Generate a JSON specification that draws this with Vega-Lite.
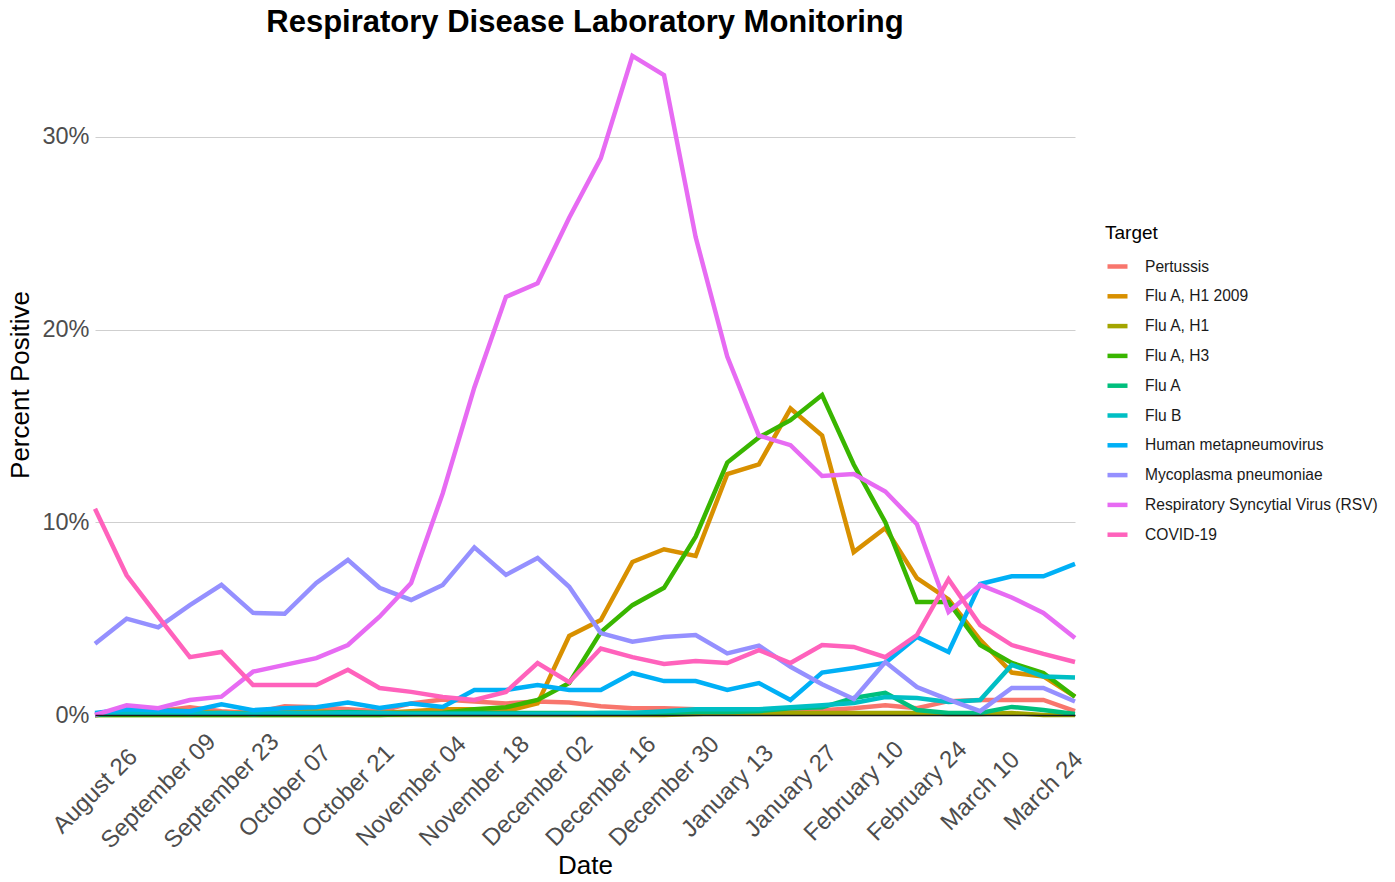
{
"$schema": "https://vega.github.io/schema/vega-lite/v6.json",
"autosize": "none",
"width": 980,
"height": 661,
"padding": {"left": 95, "top": 54, "right": 320, "bottom": 167},
"background": "white",
"config": {"font": "Liberation Sans", "view": {"stroke": null}},
"title": {"text": "Respiratory Disease Laboratory Monitoring", "fontSize": 31, "fontWeight": "bold", "color": "black", "anchor": "middle", "offset": 8},
"data": {"values": [
{"date":"2024-08-26","target":"Pertussis","pct":0},{"date":"2024-09-02","target":"Pertussis","pct":0.1},{"date":"2024-09-09","target":"Pertussis","pct":0.2},{"date":"2024-09-16","target":"Pertussis","pct":0.4},{"date":"2024-09-23","target":"Pertussis","pct":0.2},{"date":"2024-09-30","target":"Pertussis","pct":0.1},{"date":"2024-10-07","target":"Pertussis","pct":0.45},{"date":"2024-10-14","target":"Pertussis","pct":0.4},{"date":"2024-10-21","target":"Pertussis","pct":0.3},{"date":"2024-10-28","target":"Pertussis","pct":0.2},{"date":"2024-11-04","target":"Pertussis","pct":0.6},{"date":"2024-11-11","target":"Pertussis","pct":0.8},{"date":"2024-11-18","target":"Pertussis","pct":0.7},{"date":"2024-11-25","target":"Pertussis","pct":0.6},{"date":"2024-12-02","target":"Pertussis","pct":0.7},{"date":"2024-12-09","target":"Pertussis","pct":0.65},{"date":"2024-12-16","target":"Pertussis","pct":0.45},{"date":"2024-12-23","target":"Pertussis","pct":0.35},{"date":"2024-12-30","target":"Pertussis","pct":0.35},{"date":"2025-01-06","target":"Pertussis","pct":0.3},{"date":"2025-01-13","target":"Pertussis","pct":0.2},{"date":"2025-01-20","target":"Pertussis","pct":0.2},{"date":"2025-01-27","target":"Pertussis","pct":0.2},{"date":"2025-02-03","target":"Pertussis","pct":0.25},{"date":"2025-02-10","target":"Pertussis","pct":0.35},{"date":"2025-02-17","target":"Pertussis","pct":0.5},{"date":"2025-02-24","target":"Pertussis","pct":0.35},{"date":"2025-03-03","target":"Pertussis","pct":0.72},{"date":"2025-03-10","target":"Pertussis","pct":0.78},{"date":"2025-03-17","target":"Pertussis","pct":0.78},{"date":"2025-03-24","target":"Pertussis","pct":0.78},{"date":"2025-03-31","target":"Pertussis","pct":0.2},
{"date":"2024-08-26","target":"Flu A, H1 2009","pct":0},{"date":"2024-09-02","target":"Flu A, H1 2009","pct":0.1},{"date":"2024-09-09","target":"Flu A, H1 2009","pct":0.3},{"date":"2024-09-16","target":"Flu A, H1 2009","pct":0.2},{"date":"2024-09-23","target":"Flu A, H1 2009","pct":0.1},{"date":"2024-09-30","target":"Flu A, H1 2009","pct":0.1},{"date":"2024-10-07","target":"Flu A, H1 2009","pct":0.2},{"date":"2024-10-14","target":"Flu A, H1 2009","pct":0.2},{"date":"2024-10-21","target":"Flu A, H1 2009","pct":0.1},{"date":"2024-10-28","target":"Flu A, H1 2009","pct":0.1},{"date":"2024-11-04","target":"Flu A, H1 2009","pct":0.2},{"date":"2024-11-11","target":"Flu A, H1 2009","pct":0.3},{"date":"2024-11-18","target":"Flu A, H1 2009","pct":0.3},{"date":"2024-11-25","target":"Flu A, H1 2009","pct":0.2},{"date":"2024-12-02","target":"Flu A, H1 2009","pct":0.6},{"date":"2024-12-09","target":"Flu A, H1 2009","pct":4.1},{"date":"2024-12-16","target":"Flu A, H1 2009","pct":4.93},{"date":"2024-12-23","target":"Flu A, H1 2009","pct":7.94},{"date":"2024-12-30","target":"Flu A, H1 2009","pct":8.6},{"date":"2025-01-06","target":"Flu A, H1 2009","pct":8.25},{"date":"2025-01-13","target":"Flu A, H1 2009","pct":12.5},{"date":"2025-01-20","target":"Flu A, H1 2009","pct":13.0},{"date":"2025-01-27","target":"Flu A, H1 2009","pct":15.9},{"date":"2025-02-03","target":"Flu A, H1 2009","pct":14.5},{"date":"2025-02-10","target":"Flu A, H1 2009","pct":8.45},{"date":"2025-02-17","target":"Flu A, H1 2009","pct":9.7},{"date":"2025-02-24","target":"Flu A, H1 2009","pct":7.1},{"date":"2025-03-03","target":"Flu A, H1 2009","pct":6.0},{"date":"2025-03-10","target":"Flu A, H1 2009","pct":3.9},{"date":"2025-03-17","target":"Flu A, H1 2009","pct":2.2},{"date":"2025-03-24","target":"Flu A, H1 2009","pct":2.0},{"date":"2025-03-31","target":"Flu A, H1 2009","pct":0.95},
{"date":"2024-08-26","target":"Flu A, H1","pct":0},{"date":"2024-09-02","target":"Flu A, H1","pct":0},{"date":"2024-09-09","target":"Flu A, H1","pct":0},{"date":"2024-09-16","target":"Flu A, H1","pct":0},{"date":"2024-09-23","target":"Flu A, H1","pct":0},{"date":"2024-09-30","target":"Flu A, H1","pct":0},{"date":"2024-10-07","target":"Flu A, H1","pct":0},{"date":"2024-10-14","target":"Flu A, H1","pct":0},{"date":"2024-10-21","target":"Flu A, H1","pct":0},{"date":"2024-10-28","target":"Flu A, H1","pct":0},{"date":"2024-11-04","target":"Flu A, H1","pct":0},{"date":"2024-11-11","target":"Flu A, H1","pct":0},{"date":"2024-11-18","target":"Flu A, H1","pct":0},{"date":"2024-11-25","target":"Flu A, H1","pct":0},{"date":"2024-12-02","target":"Flu A, H1","pct":0},{"date":"2024-12-09","target":"Flu A, H1","pct":0},{"date":"2024-12-16","target":"Flu A, H1","pct":0},{"date":"2024-12-23","target":"Flu A, H1","pct":0},{"date":"2024-12-30","target":"Flu A, H1","pct":0},{"date":"2025-01-06","target":"Flu A, H1","pct":0.05},{"date":"2025-01-13","target":"Flu A, H1","pct":0.1},{"date":"2025-01-20","target":"Flu A, H1","pct":0.1},{"date":"2025-01-27","target":"Flu A, H1","pct":0.1},{"date":"2025-02-03","target":"Flu A, H1","pct":0.1},{"date":"2025-02-10","target":"Flu A, H1","pct":0.1},{"date":"2025-02-17","target":"Flu A, H1","pct":0.1},{"date":"2025-02-24","target":"Flu A, H1","pct":0.1},{"date":"2025-03-03","target":"Flu A, H1","pct":0.05},{"date":"2025-03-10","target":"Flu A, H1","pct":0.05},{"date":"2025-03-17","target":"Flu A, H1","pct":0.1},{"date":"2025-03-24","target":"Flu A, H1","pct":0},{"date":"2025-03-31","target":"Flu A, H1","pct":0},
{"date":"2024-08-26","target":"Flu A, H3","pct":0},{"date":"2024-09-02","target":"Flu A, H3","pct":0},{"date":"2024-09-09","target":"Flu A, H3","pct":0},{"date":"2024-09-16","target":"Flu A, H3","pct":0},{"date":"2024-09-23","target":"Flu A, H3","pct":0},{"date":"2024-09-30","target":"Flu A, H3","pct":0},{"date":"2024-10-07","target":"Flu A, H3","pct":0},{"date":"2024-10-14","target":"Flu A, H3","pct":0},{"date":"2024-10-21","target":"Flu A, H3","pct":0},{"date":"2024-10-28","target":"Flu A, H3","pct":0},{"date":"2024-11-04","target":"Flu A, H3","pct":0.05},{"date":"2024-11-11","target":"Flu A, H3","pct":0.1},{"date":"2024-11-18","target":"Flu A, H3","pct":0.3},{"date":"2024-11-25","target":"Flu A, H3","pct":0.4},{"date":"2024-12-02","target":"Flu A, H3","pct":0.78},{"date":"2024-12-09","target":"Flu A, H3","pct":1.66},{"date":"2024-12-16","target":"Flu A, H3","pct":4.3},{"date":"2024-12-23","target":"Flu A, H3","pct":5.7},{"date":"2024-12-30","target":"Flu A, H3","pct":6.6},{"date":"2025-01-06","target":"Flu A, H3","pct":9.25},{"date":"2025-01-13","target":"Flu A, H3","pct":13.1},{"date":"2025-01-20","target":"Flu A, H3","pct":14.4},{"date":"2025-01-27","target":"Flu A, H3","pct":15.3},{"date":"2025-02-03","target":"Flu A, H3","pct":16.6},{"date":"2025-02-10","target":"Flu A, H3","pct":13.0},{"date":"2025-02-17","target":"Flu A, H3","pct":10.0},{"date":"2025-02-24","target":"Flu A, H3","pct":5.86},{"date":"2025-03-03","target":"Flu A, H3","pct":5.86},{"date":"2025-03-10","target":"Flu A, H3","pct":3.63},{"date":"2025-03-17","target":"Flu A, H3","pct":2.7},{"date":"2025-03-24","target":"Flu A, H3","pct":2.18},{"date":"2025-03-31","target":"Flu A, H3","pct":0.95},
{"date":"2024-08-26","target":"Flu A","pct":0},{"date":"2024-09-02","target":"Flu A","pct":0.1},{"date":"2024-09-09","target":"Flu A","pct":0.1},{"date":"2024-09-16","target":"Flu A","pct":0.05},{"date":"2024-09-23","target":"Flu A","pct":0.1},{"date":"2024-09-30","target":"Flu A","pct":0.05},{"date":"2024-10-07","target":"Flu A","pct":0.1},{"date":"2024-10-14","target":"Flu A","pct":0.1},{"date":"2024-10-21","target":"Flu A","pct":0.15},{"date":"2024-10-28","target":"Flu A","pct":0.1},{"date":"2024-11-04","target":"Flu A","pct":0.1},{"date":"2024-11-11","target":"Flu A","pct":0.1},{"date":"2024-11-18","target":"Flu A","pct":0.1},{"date":"2024-11-25","target":"Flu A","pct":0.1},{"date":"2024-12-02","target":"Flu A","pct":0.1},{"date":"2024-12-09","target":"Flu A","pct":0.1},{"date":"2024-12-16","target":"Flu A","pct":0.1},{"date":"2024-12-23","target":"Flu A","pct":0.1},{"date":"2024-12-30","target":"Flu A","pct":0.1},{"date":"2025-01-06","target":"Flu A","pct":0.15},{"date":"2025-01-13","target":"Flu A","pct":0.15},{"date":"2025-01-20","target":"Flu A","pct":0.2},{"date":"2025-01-27","target":"Flu A","pct":0.35},{"date":"2025-02-03","target":"Flu A","pct":0.4},{"date":"2025-02-10","target":"Flu A","pct":0.88},{"date":"2025-02-17","target":"Flu A","pct":1.15},{"date":"2025-02-24","target":"Flu A","pct":0.26},{"date":"2025-03-03","target":"Flu A","pct":0.1},{"date":"2025-03-10","target":"Flu A","pct":0.1},{"date":"2025-03-17","target":"Flu A","pct":0.42},{"date":"2025-03-24","target":"Flu A","pct":0.26},{"date":"2025-03-31","target":"Flu A","pct":0.05},
{"date":"2024-08-26","target":"Flu B","pct":0.05},{"date":"2024-09-02","target":"Flu B","pct":0.1},{"date":"2024-09-09","target":"Flu B","pct":0.1},{"date":"2024-09-16","target":"Flu B","pct":0.1},{"date":"2024-09-23","target":"Flu B","pct":0.1},{"date":"2024-09-30","target":"Flu B","pct":0.05},{"date":"2024-10-07","target":"Flu B","pct":0.1},{"date":"2024-10-14","target":"Flu B","pct":0.1},{"date":"2024-10-21","target":"Flu B","pct":0.1},{"date":"2024-10-28","target":"Flu B","pct":0.1},{"date":"2024-11-04","target":"Flu B","pct":0.05},{"date":"2024-11-11","target":"Flu B","pct":0.05},{"date":"2024-11-18","target":"Flu B","pct":0.05},{"date":"2024-11-25","target":"Flu B","pct":0.05},{"date":"2024-12-02","target":"Flu B","pct":0.05},{"date":"2024-12-09","target":"Flu B","pct":0.05},{"date":"2024-12-16","target":"Flu B","pct":0.1},{"date":"2024-12-23","target":"Flu B","pct":0.1},{"date":"2024-12-30","target":"Flu B","pct":0.2},{"date":"2025-01-06","target":"Flu B","pct":0.3},{"date":"2025-01-13","target":"Flu B","pct":0.3},{"date":"2025-01-20","target":"Flu B","pct":0.3},{"date":"2025-01-27","target":"Flu B","pct":0.4},{"date":"2025-02-03","target":"Flu B","pct":0.5},{"date":"2025-02-10","target":"Flu B","pct":0.62},{"date":"2025-02-17","target":"Flu B","pct":0.93},{"date":"2025-02-24","target":"Flu B","pct":0.88},{"date":"2025-03-03","target":"Flu B","pct":0.67},{"date":"2025-03-10","target":"Flu B","pct":0.78},{"date":"2025-03-17","target":"Flu B","pct":2.6},{"date":"2025-03-24","target":"Flu B","pct":2.0},{"date":"2025-03-31","target":"Flu B","pct":1.95},
{"date":"2024-08-26","target":"Human metapneumovirus","pct":0.1},{"date":"2024-09-02","target":"Human metapneumovirus","pct":0.3},{"date":"2024-09-09","target":"Human metapneumovirus","pct":0.25},{"date":"2024-09-16","target":"Human metapneumovirus","pct":0.2},{"date":"2024-09-23","target":"Human metapneumovirus","pct":0.55},{"date":"2024-09-30","target":"Human metapneumovirus","pct":0.25},{"date":"2024-10-07","target":"Human metapneumovirus","pct":0.35},{"date":"2024-10-14","target":"Human metapneumovirus","pct":0.4},{"date":"2024-10-21","target":"Human metapneumovirus","pct":0.65},{"date":"2024-10-28","target":"Human metapneumovirus","pct":0.36},{"date":"2024-11-04","target":"Human metapneumovirus","pct":0.6},{"date":"2024-11-11","target":"Human metapneumovirus","pct":0.42},{"date":"2024-11-18","target":"Human metapneumovirus","pct":1.3},{"date":"2024-11-25","target":"Human metapneumovirus","pct":1.3},{"date":"2024-12-02","target":"Human metapneumovirus","pct":1.55},{"date":"2024-12-09","target":"Human metapneumovirus","pct":1.3},{"date":"2024-12-16","target":"Human metapneumovirus","pct":1.3},{"date":"2024-12-23","target":"Human metapneumovirus","pct":2.18},{"date":"2024-12-30","target":"Human metapneumovirus","pct":1.76},{"date":"2025-01-06","target":"Human metapneumovirus","pct":1.76},{"date":"2025-01-13","target":"Human metapneumovirus","pct":1.3},{"date":"2025-01-20","target":"Human metapneumovirus","pct":1.66},{"date":"2025-01-27","target":"Human metapneumovirus","pct":0.78},{"date":"2025-02-03","target":"Human metapneumovirus","pct":2.2},{"date":"2025-02-10","target":"Human metapneumovirus","pct":2.44},{"date":"2025-02-17","target":"Human metapneumovirus","pct":2.7},{"date":"2025-02-24","target":"Human metapneumovirus","pct":4.05},{"date":"2025-03-03","target":"Human metapneumovirus","pct":3.27},{"date":"2025-03-10","target":"Human metapneumovirus","pct":6.8},{"date":"2025-03-17","target":"Human metapneumovirus","pct":7.2},{"date":"2025-03-24","target":"Human metapneumovirus","pct":7.2},{"date":"2025-03-31","target":"Human metapneumovirus","pct":7.84},
{"date":"2024-08-26","target":"Mycoplasma pneumoniae","pct":3.7},{"date":"2024-09-02","target":"Mycoplasma pneumoniae","pct":5.0},{"date":"2024-09-09","target":"Mycoplasma pneumoniae","pct":4.55},{"date":"2024-09-16","target":"Mycoplasma pneumoniae","pct":5.7},{"date":"2024-09-23","target":"Mycoplasma pneumoniae","pct":6.75},{"date":"2024-09-30","target":"Mycoplasma pneumoniae","pct":5.3},{"date":"2024-10-07","target":"Mycoplasma pneumoniae","pct":5.25},{"date":"2024-10-14","target":"Mycoplasma pneumoniae","pct":6.85},{"date":"2024-10-21","target":"Mycoplasma pneumoniae","pct":8.05},{"date":"2024-10-28","target":"Mycoplasma pneumoniae","pct":6.6},{"date":"2024-11-04","target":"Mycoplasma pneumoniae","pct":5.97},{"date":"2024-11-11","target":"Mycoplasma pneumoniae","pct":6.75},{"date":"2024-11-18","target":"Mycoplasma pneumoniae","pct":8.7},{"date":"2024-11-25","target":"Mycoplasma pneumoniae","pct":7.27},{"date":"2024-12-02","target":"Mycoplasma pneumoniae","pct":8.15},{"date":"2024-12-09","target":"Mycoplasma pneumoniae","pct":6.65},{"date":"2024-12-16","target":"Mycoplasma pneumoniae","pct":4.25},{"date":"2024-12-23","target":"Mycoplasma pneumoniae","pct":3.8},{"date":"2024-12-30","target":"Mycoplasma pneumoniae","pct":4.05},{"date":"2025-01-06","target":"Mycoplasma pneumoniae","pct":4.15},{"date":"2025-01-13","target":"Mycoplasma pneumoniae","pct":3.2},{"date":"2025-01-20","target":"Mycoplasma pneumoniae","pct":3.6},{"date":"2025-01-27","target":"Mycoplasma pneumoniae","pct":2.5},{"date":"2025-02-03","target":"Mycoplasma pneumoniae","pct":1.6},{"date":"2025-02-10","target":"Mycoplasma pneumoniae","pct":0.83},{"date":"2025-02-17","target":"Mycoplasma pneumoniae","pct":2.75},{"date":"2025-02-24","target":"Mycoplasma pneumoniae","pct":1.45},{"date":"2025-03-03","target":"Mycoplasma pneumoniae","pct":0.8},{"date":"2025-03-10","target":"Mycoplasma pneumoniae","pct":0.2},{"date":"2025-03-17","target":"Mycoplasma pneumoniae","pct":1.4},{"date":"2025-03-24","target":"Mycoplasma pneumoniae","pct":1.4},{"date":"2025-03-31","target":"Mycoplasma pneumoniae","pct":0.7},
{"date":"2024-08-26","target":"Respiratory Syncytial Virus (RSV)","pct":0},{"date":"2024-09-02","target":"Respiratory Syncytial Virus (RSV)","pct":0.5},{"date":"2024-09-09","target":"Respiratory Syncytial Virus (RSV)","pct":0.35},{"date":"2024-09-16","target":"Respiratory Syncytial Virus (RSV)","pct":0.78},{"date":"2024-09-23","target":"Respiratory Syncytial Virus (RSV)","pct":0.95},{"date":"2024-09-30","target":"Respiratory Syncytial Virus (RSV)","pct":2.25},{"date":"2024-10-07","target":"Respiratory Syncytial Virus (RSV)","pct":2.6},{"date":"2024-10-14","target":"Respiratory Syncytial Virus (RSV)","pct":2.95},{"date":"2024-10-21","target":"Respiratory Syncytial Virus (RSV)","pct":3.63},{"date":"2024-10-28","target":"Respiratory Syncytial Virus (RSV)","pct":5.1},{"date":"2024-11-04","target":"Respiratory Syncytial Virus (RSV)","pct":6.85},{"date":"2024-11-11","target":"Respiratory Syncytial Virus (RSV)","pct":11.5},{"date":"2024-11-18","target":"Respiratory Syncytial Virus (RSV)","pct":17.0},{"date":"2024-11-25","target":"Respiratory Syncytial Virus (RSV)","pct":21.7},{"date":"2024-12-02","target":"Respiratory Syncytial Virus (RSV)","pct":22.4},{"date":"2024-12-09","target":"Respiratory Syncytial Virus (RSV)","pct":25.8},{"date":"2024-12-16","target":"Respiratory Syncytial Virus (RSV)","pct":28.9},{"date":"2024-12-23","target":"Respiratory Syncytial Virus (RSV)","pct":34.2},{"date":"2024-12-30","target":"Respiratory Syncytial Virus (RSV)","pct":33.2},{"date":"2025-01-06","target":"Respiratory Syncytial Virus (RSV)","pct":24.8},{"date":"2025-01-13","target":"Respiratory Syncytial Virus (RSV)","pct":18.6},{"date":"2025-01-20","target":"Respiratory Syncytial Virus (RSV)","pct":14.5},{"date":"2025-01-27","target":"Respiratory Syncytial Virus (RSV)","pct":14.0},{"date":"2025-02-03","target":"Respiratory Syncytial Virus (RSV)","pct":12.4},{"date":"2025-02-10","target":"Respiratory Syncytial Virus (RSV)","pct":12.5},{"date":"2025-02-17","target":"Respiratory Syncytial Virus (RSV)","pct":11.6},{"date":"2025-02-24","target":"Respiratory Syncytial Virus (RSV)","pct":9.9},{"date":"2025-03-03","target":"Respiratory Syncytial Virus (RSV)","pct":5.35},{"date":"2025-03-10","target":"Respiratory Syncytial Virus (RSV)","pct":6.75},{"date":"2025-03-17","target":"Respiratory Syncytial Virus (RSV)","pct":6.1},{"date":"2025-03-24","target":"Respiratory Syncytial Virus (RSV)","pct":5.3},{"date":"2025-03-31","target":"Respiratory Syncytial Virus (RSV)","pct":4.0},
{"date":"2024-08-26","target":"COVID-19","pct":10.7},{"date":"2024-09-02","target":"COVID-19","pct":7.25},{"date":"2024-09-09","target":"COVID-19","pct":5.1},{"date":"2024-09-16","target":"COVID-19","pct":3.0},{"date":"2024-09-23","target":"COVID-19","pct":3.27},{"date":"2024-09-30","target":"COVID-19","pct":1.56},{"date":"2024-10-07","target":"COVID-19","pct":1.56},{"date":"2024-10-14","target":"COVID-19","pct":1.56},{"date":"2024-10-21","target":"COVID-19","pct":2.35},{"date":"2024-10-28","target":"COVID-19","pct":1.4},{"date":"2024-11-04","target":"COVID-19","pct":1.2},{"date":"2024-11-11","target":"COVID-19","pct":0.93},{"date":"2024-11-18","target":"COVID-19","pct":0.78},{"date":"2024-11-25","target":"COVID-19","pct":1.2},{"date":"2024-12-02","target":"COVID-19","pct":2.7},{"date":"2024-12-09","target":"COVID-19","pct":1.7},{"date":"2024-12-16","target":"COVID-19","pct":3.45},{"date":"2024-12-23","target":"COVID-19","pct":3.0},{"date":"2024-12-30","target":"COVID-19","pct":2.65},{"date":"2025-01-06","target":"COVID-19","pct":2.8},{"date":"2025-01-13","target":"COVID-19","pct":2.7},{"date":"2025-01-20","target":"COVID-19","pct":3.37},{"date":"2025-01-27","target":"COVID-19","pct":2.7},{"date":"2025-02-03","target":"COVID-19","pct":3.63},{"date":"2025-02-10","target":"COVID-19","pct":3.53},{"date":"2025-02-17","target":"COVID-19","pct":3.0},{"date":"2025-02-24","target":"COVID-19","pct":4.15},{"date":"2025-03-03","target":"COVID-19","pct":7.05},{"date":"2025-03-10","target":"COVID-19","pct":4.67},{"date":"2025-03-17","target":"COVID-19","pct":3.63},{"date":"2025-03-24","target":"COVID-19","pct":3.17},{"date":"2025-03-31","target":"COVID-19","pct":2.75}
]},
"mark": {"type": "line", "strokeWidth": 4.5, "strokeJoin": "miter", "strokeCap": "butt"},
"encoding": {
"x": {"field": "date", "type": "temporal",
 "scale": {"type": "utc", "domain": [{"year": 2024, "month": 8, "date": 26, "utc": true}, {"year": 2025, "month": 3, "date": 31, "utc": true}], "nice": false},
 "axis": {"title": "Date",
  "labelExpr": "['January','February','March','April','May','June','July','August','September','October','November','December'][utcmonth(datum.value)] + ' ' + (utcdate(datum.value) < 10 ? '0' : '') + utcdate(datum.value)",
  "values": [{"year":2024,"month":8,"date":26,"utc":true},{"year":2024,"month":9,"date":9,"utc":true},{"year":2024,"month":9,"date":23,"utc":true},{"year":2024,"month":10,"date":7,"utc":true},{"year":2024,"month":10,"date":21,"utc":true},{"year":2024,"month":11,"date":4,"utc":true},{"year":2024,"month":11,"date":18,"utc":true},{"year":2024,"month":12,"date":2,"utc":true},{"year":2024,"month":12,"date":16,"utc":true},{"year":2024,"month":12,"date":30,"utc":true},{"year":2025,"month":1,"date":13,"utc":true},{"year":2025,"month":1,"date":27,"utc":true},{"year":2025,"month":2,"date":10,"utc":true},{"year":2025,"month":2,"date":24,"utc":true},{"year":2025,"month":3,"date":10,"utc":true},{"year":2025,"month":3,"date":24,"utc":true}],
  "grid": false, "ticks": false, "domain": true, "domainColor": "#1a1a1a", "domainWidth": 1.5, "zindex": 1,
  "labelAngle": -45, "labelAlign": "center", "labelBaseline": "middle", "labelFontSize": 24, "labelColor": "#4d4d4d", "labelPadding": 76, "labelOverlap": false, "labelFlush": false, "labelBound": false, "labelLimit": 300,
  "titleFontSize": 26, "titleFontWeight": "normal", "titleColor": "black", "titlePadding": 0}},
"y": {"field": "pct", "type": "quantitative",
 "scale": {"domain": [0, 34.3], "nice": false, "zero": true},
 "axis": {"title": "Percent Positive", "values": [0, 10, 20, 30], "labelExpr": "datum.value + '%'",
  "grid": true, "gridColor": "#cfcfcf", "gridWidth": 1, "ticks": false, "domain": false,
  "labelFontSize": 23.5, "labelColor": "#4d4d4d", "labelPadding": 6,
  "titleFontSize": 26, "titleFontWeight": "normal", "titleColor": "black", "titlePadding": 8}},
"color": {"field": "target", "type": "nominal",
 "scale": {"domain": ["Pertussis", "Flu A, H1 2009", "Flu A, H1", "Flu A, H3", "Flu A", "Flu B", "Human metapneumovirus", "Mycoplasma pneumoniae", "Respiratory Syncytial Virus (RSV)", "COVID-19"],
  "range": ["#F8766D", "#D89000", "#A3A500", "#39B600", "#00BF7D", "#00BFC4", "#00B0F6", "#9590FF", "#E76BF3", "#FF62BC"]},
 "legend": {"title": "Target", "orient": "none", "legendX": 1010, "legendY": 170, "padding": 0,
  "titleFontSize": 19, "titleFontWeight": "normal", "titleColor": "black", "titlePadding": 11,
  "labelFontSize": 15.6, "labelColor": "#1a1a1a", "labelOffset": 15, "labelLimit": 320,
  "symbolType": "stroke", "symbolStrokeWidth": 4.5, "symbolSize": 400, "rowPadding": 7.8}}
}
}
